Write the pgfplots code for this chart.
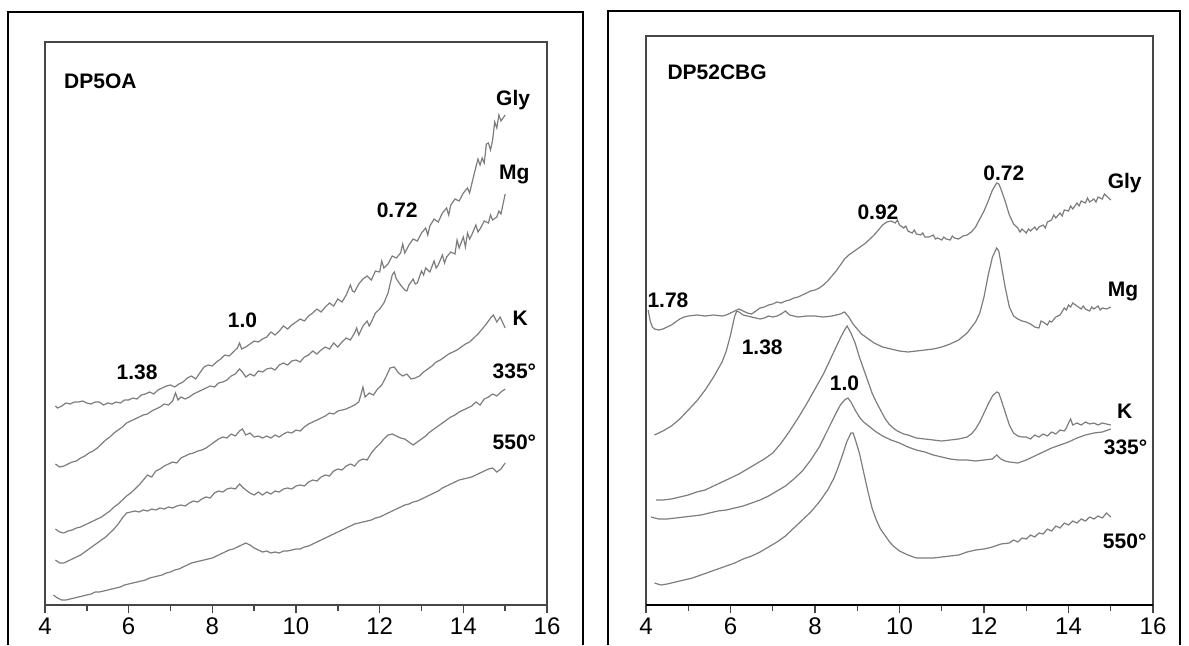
\documentclass[border=0pt]{standalone}
\usepackage{fontspec}
\setmainfont{Liberation Sans}
\usepackage{pgfplots}
\pgfplotsset{compat=1.18}
\definecolor{trace}{RGB}{125,125,125}
\definecolor{boxc}{RGB}{70,70,70}
\pgfplotsset{
  xrd/.style={
    scale only axis, xmin=4, xmax=16, ymin=0,
    xtick={4,6,...,16}, minor xtick={5,7,...,15},
    ytick=\empty, xtick pos=bottom, xtick align=outside,
    major tick length=4pt, minor tick length=3pt,
    tick style={boxc, line width=0.7pt},
    axis line style={boxc, line width=0.75pt},
    /pgf/number format/assume math mode=true,
    xticklabel style={font=\fontsize{12}{13}\selectfont, yshift=1pt},
    no markers,
    every axis plot post/.append style={trace, line width=0.6pt, mark=none},
  },
}
\tikzset{lab/.style={font=\bfseries\fontsize{10.5}{12}\selectfont, inner sep=0pt}}
\begin{document}
\begin{tikzpicture}[x=0.5pt,y=0.5pt]
\useasboundingbox (0,0) rectangle (1189,645);
% outer frames
\draw[black, line width=1pt] (8,0) -- (8,633) -- (583,633) -- (583,0);
\draw[black, line width=1pt] (608,0) -- (608,634) -- (1180,634) -- (1180,0);

\begin{axis}[xrd, at={(22.5pt,20pt)}, anchor=south west, width=251pt, height=281.5pt, ymax=563]
% Gly
\addplot coordinates {(4.25,199)(4.3,197)(4.4,199)(4.5,202)(4.6,201)(4.7,203)(4.8,203)(4.9,204)(5.0,202)(5.1,201)(5.2,203)(5.3,203)(5.4,200)(5.5,202)(5.6,201)(5.7,203)(5.8,202)(5.9,205)(6.0,205)(6.1,207)(6.2,206)(6.3,210)(6.4,211)(6.5,213)(6.6,211)(6.7,215)(6.8,217)(6.9,219)(7.0,220)(7.1,218)(7.2,221)(7.3,223)(7.4,227)(7.5,229)(7.6,226)(7.7,232)(7.8,238)(7.9,240)(8.0,239)(8.1,243)(8.2,246)(8.3,250)(8.4,249)(8.5,253)(8.6,257)(8.65,262)(8.7,256)(8.8,258)(8.9,261)(9.0,264)(9.1,263)(9.2,266)(9.3,268)(9.4,273)(9.5,270)(9.6,274)(9.7,279)(9.8,276)(9.9,280)(10.0,283)(10.1,286)(10.2,284)(10.3,289)(10.4,292)(10.5,296)(10.6,293)(10.7,298)(10.8,302)(10.9,299)(11.0,306)(11.1,303)(11.2,310)(11.3,320)(11.35,314)(11.4,313)(11.5,321)(11.6,326)(11.7,329)(11.8,325)(11.9,334)(12.0,333)(12.05,344)(12.1,337)(12.2,341)(12.3,349)(12.4,347)(12.5,352)(12.55,361)(12.6,352)(12.7,360)(12.8,366)(12.9,364)(13.0,372)(13.1,377)(13.15,370)(13.2,379)(13.3,386)(13.4,383)(13.5,392)(13.6,397)(13.65,390)(13.7,400)(13.8,406)(13.9,404)(14.0,412)(14.1,417)(14.15,412)(14.2,421)(14.3,438)(14.35,446)(14.4,440)(14.45,447)(14.5,442)(14.55,461)(14.6,462)(14.65,455)(14.7,465)(14.75,483)(14.8,477)(14.85,490)(14.9,484)(15.0,490)};
% Mg
\addplot coordinates {(4.25,141)(4.35,138)(4.45,139)(4.55,141)(4.65,143)(4.75,144)(4.85,147)(4.95,149)(5.05,152)(5.15,154)(5.25,157)(5.35,161)(5.45,165)(5.55,168)(5.65,172)(5.75,175)(5.85,178)(5.95,182)(6.05,184)(6.15,186)(6.25,188)(6.35,190)(6.45,191)(6.55,194)(6.65,196)(6.75,198)(6.85,201)(6.95,200)(7.05,204)(7.12,212)(7.18,205)(7.25,208)(7.35,206)(7.45,208)(7.55,211)(7.65,213)(7.75,215)(7.85,217)(7.95,219)(8.05,218)(8.15,222)(8.25,223)(8.35,225)(8.45,229)(8.55,231)(8.65,236)(8.72,233)(8.8,228)(8.9,231)(9.0,229)(9.1,234)(9.2,233)(9.3,236)(9.4,237)(9.5,235)(9.6,240)(9.7,242)(9.8,240)(9.9,244)(10.0,245)(10.1,243)(10.2,248)(10.3,250)(10.4,254)(10.5,251)(10.6,255)(10.7,258)(10.8,256)(10.9,262)(11.0,258)(11.1,263)(11.2,267)(11.3,265)(11.4,272)(11.45,277)(11.5,270)(11.6,279)(11.7,284)(11.75,279)(11.8,283)(11.9,292)(12.0,296)(12.1,302)(12.2,312)(12.3,330)(12.35,333)(12.4,326)(12.5,320)(12.6,315)(12.65,314)(12.7,320)(12.8,326)(12.85,321)(12.9,322)(13.0,334)(13.05,330)(13.1,337)(13.2,333)(13.3,344)(13.35,337)(13.4,340)(13.5,350)(13.55,342)(13.6,348)(13.7,353)(13.8,351)(13.85,365)(13.9,357)(14.0,368)(14.05,358)(14.1,372)(14.15,366)(14.2,370)(14.3,380)(14.35,373)(14.4,376)(14.5,384)(14.6,382)(14.65,390)(14.7,385)(14.8,388)(14.85,394)(14.9,391)(15.0,411)};
% K
\addplot coordinates {(4.25,76)(4.35,73)(4.45,72)(4.55,74)(4.65,75)(4.75,77)(4.85,78)(4.95,80)(5.05,82)(5.15,84)(5.25,86)(5.35,88)(5.45,91)(5.55,94)(5.65,98)(5.75,101)(5.85,105)(5.95,109)(6.05,112)(6.15,116)(6.25,120)(6.35,125)(6.45,130)(6.55,128)(6.65,134)(6.75,136)(6.85,139)(6.95,141)(7.05,143)(7.15,142)(7.25,147)(7.35,149)(7.45,151)(7.55,152)(7.65,154)(7.75,155)(7.85,157)(7.95,160)(8.05,163)(8.15,166)(8.25,168)(8.35,167)(8.45,171)(8.55,169)(8.65,174)(8.72,176)(8.8,170)(8.9,172)(9.0,168)(9.1,169)(9.2,167)(9.3,169)(9.4,167)(9.5,170)(9.6,168)(9.7,171)(9.8,173)(9.9,172)(10.0,175)(10.1,174)(10.2,178)(10.3,181)(10.4,183)(10.5,185)(10.6,187)(10.7,189)(10.8,192)(10.9,191)(11.0,194)(11.1,195)(11.2,196)(11.3,198)(11.4,200)(11.5,203)(11.55,210)(11.6,218)(11.65,208)(11.75,212)(11.85,210)(11.95,216)(12.05,220)(12.15,228)(12.25,237)(12.35,238)(12.45,232)(12.55,229)(12.65,231)(12.75,226)(12.85,227)(12.95,229)(13.05,233)(13.15,236)(13.25,239)(13.35,243)(13.45,245)(13.55,248)(13.65,251)(13.75,253)(13.85,255)(13.95,258)(14.05,261)(14.15,263)(14.25,267)(14.35,271)(14.45,276)(14.55,281)(14.65,287)(14.72,290)(14.8,283)(14.88,288)(15.0,277)};
% 335
\addplot coordinates {(4.25,45)(4.35,42)(4.45,42)(4.55,44)(4.65,46)(4.75,48)(4.85,50)(4.95,53)(5.05,56)(5.15,59)(5.25,62)(5.35,65)(5.45,68)(5.55,72)(5.65,76)(5.75,81)(5.85,87)(5.95,92)(6.05,93)(6.15,94)(6.25,93)(6.35,95)(6.45,94)(6.55,96)(6.65,95)(6.75,97)(6.85,96)(6.95,98)(7.05,97)(7.15,99)(7.25,100)(7.35,99)(7.45,102)(7.55,104)(7.65,103)(7.75,106)(7.85,108)(7.95,107)(8.05,112)(8.15,114)(8.25,113)(8.35,116)(8.45,117)(8.55,116)(8.65,121)(8.72,118)(8.8,115)(8.9,112)(9.0,110)(9.1,113)(9.2,110)(9.3,113)(9.4,111)(9.5,114)(9.6,113)(9.7,116)(9.8,117)(9.9,116)(10.0,119)(10.1,120)(10.2,119)(10.3,123)(10.4,125)(10.5,124)(10.6,128)(10.7,130)(10.8,129)(10.9,134)(11.0,136)(11.1,135)(11.2,139)(11.3,141)(11.4,139)(11.5,144)(11.6,146)(11.7,145)(11.8,152)(11.9,157)(12.0,161)(12.1,166)(12.2,170)(12.3,171)(12.4,169)(12.5,167)(12.6,166)(12.7,163)(12.8,160)(12.9,163)(13.0,166)(13.1,169)(13.2,173)(13.3,176)(13.4,179)(13.5,182)(13.6,185)(13.7,188)(13.8,190)(13.9,193)(14.0,195)(14.1,197)(14.2,199)(14.3,203)(14.4,200)(14.5,206)(14.6,208)(14.7,211)(14.8,209)(14.9,213)(15.0,216)};
% 550
\addplot coordinates {(4.2,10)(4.3,7)(4.4,5)(4.5,5)(4.6,6)(4.7,7)(4.8,8)(4.9,9)(5.0,10)(5.1,11)(5.2,13)(5.3,13)(5.4,14)(5.5,15)(5.6,16)(5.7,17)(5.8,18)(5.9,20)(6.0,21)(6.1,22)(6.2,23)(6.3,24)(6.4,25)(6.5,27)(6.6,28)(6.7,29)(6.8,30)(6.9,32)(7.0,33)(7.1,35)(7.2,36)(7.3,38)(7.4,40)(7.5,42)(7.6,43)(7.7,44)(7.8,45)(7.9,46)(8.0,47)(8.1,49)(8.2,51)(8.3,53)(8.4,55)(8.5,56)(8.6,58)(8.7,60)(8.8,62)(8.9,60)(9.0,57)(9.1,55)(9.2,53)(9.3,54)(9.4,52)(9.5,53)(9.6,52)(9.7,54)(9.8,54)(9.9,55)(10.0,56)(10.1,56)(10.2,58)(10.3,59)(10.4,61)(10.5,63)(10.6,65)(10.7,67)(10.8,69)(10.9,71)(11.0,73)(11.1,75)(11.2,77)(11.3,79)(11.4,81)(11.5,82)(11.6,83)(11.7,84)(11.8,85)(11.9,87)(12.0,88)(12.1,90)(12.2,92)(12.3,94)(12.4,96)(12.5,98)(12.6,100)(12.7,101)(12.8,103)(12.9,104)(13.0,106)(13.1,108)(13.2,110)(13.3,112)(13.4,114)(13.5,117)(13.6,119)(13.7,121)(13.8,123)(13.9,125)(14.0,126)(14.1,127)(14.2,128)(14.3,130)(14.4,132)(14.5,134)(14.6,136)(14.7,137)(14.8,133)(14.9,136)(15.0,142)};
\node[lab, anchor=west] at (axis cs:4.45,524) {DP5OA};
\node[lab] at (axis cs:15.19,505) {Gly};
\node[lab] at (axis cs:15.22,431) {Mg};
\node[lab] at (axis cs:12.42,395) {0.72};
\node[lab] at (axis cs:8.72,285) {1.0};
\node[lab] at (axis cs:6.2,233) {1.38};
\node[lab] at (axis cs:15.36,287) {K};
\node[lab] at (axis cs:15.22,234) {335°};
\node[lab] at (axis cs:15.22,163) {550°};
\end{axis}

\begin{axis}[xrd, at={(323pt,20pt)}, anchor=south west, width=253.5pt, height=284.5pt, ymax=569]
% Gly
\addplot coordinates {(4.05,295)(4.1,284)(4.15,278)(4.2,276)(4.3,275)(4.4,276)(4.5,278)(4.6,280)(4.7,283)(4.8,286)(4.9,288)(5.0,289)(5.2,290)(5.4,289)(5.6,290)(5.8,289)(5.9,290)(6.0,292)(6.1,294)(6.2,296)(6.3,294)(6.4,292)(6.5,291)(6.6,294)(6.7,297)(6.8,298)(6.9,300)(7.0,301)(7.1,303)(7.2,302)(7.3,304)(7.4,305)(7.5,307)(7.6,308)(7.7,310)(7.8,312)(7.9,314)(8.0,315)(8.1,317)(8.2,320)(8.3,324)(8.4,329)(8.5,334)(8.6,340)(8.7,346)(8.8,350)(8.9,353)(9.0,356)(9.1,359)(9.2,362)(9.3,366)(9.4,370)(9.5,375)(9.6,380)(9.7,383)(9.8,384)(9.9,382)(9.95,385)(10.0,380)(10.1,377)(10.15,379)(10.2,374)(10.3,372)(10.35,375)(10.4,371)(10.5,370)(10.55,372)(10.6,368)(10.7,368)(10.8,370)(10.85,366)(10.9,367)(11.0,365)(11.05,368)(11.1,366)(11.2,365)(11.25,369)(11.3,367)(11.4,366)(11.5,369)(11.6,370)(11.7,373)(11.8,378)(11.9,386)(12.0,394)(12.1,404)(12.2,415)(12.3,422)(12.35,421)(12.4,416)(12.5,404)(12.6,390)(12.7,381)(12.8,377)(12.85,373)(12.9,376)(13.0,372)(13.05,376)(13.1,374)(13.2,378)(13.25,375)(13.3,378)(13.4,380)(13.45,377)(13.5,383)(13.6,385)(13.65,390)(13.7,387)(13.8,392)(13.85,389)(13.9,395)(14.0,394)(14.05,399)(14.1,396)(14.2,402)(14.25,399)(14.3,404)(14.4,402)(14.45,407)(14.5,403)(14.6,406)(14.65,403)(14.7,408)(14.8,406)(14.85,411)(14.9,409)(15.0,405)};
% Mg
\addplot coordinates {(4.2,170)(4.4,174)(4.6,179)(4.8,186)(5.0,195)(5.2,204)(5.4,215)(5.6,228)(5.8,243)(5.9,254)(6.0,270)(6.1,289)(6.15,294)(6.2,293)(6.3,290)(6.4,289)(6.5,288)(6.6,287)(6.7,286)(6.8,287)(6.9,289)(7.0,288)(7.1,289)(7.2,291)(7.3,294)(7.4,290)(7.5,289)(7.6,288)(7.8,289)(8.0,289)(8.2,288)(8.4,289)(8.6,291)(8.7,293)(8.8,288)(8.9,281)(9.0,276)(9.1,271)(9.2,268)(9.3,265)(9.4,262)(9.5,260)(9.6,258)(9.7,257)(9.8,256)(9.9,255)(10.0,254)(10.2,253)(10.4,254)(10.6,255)(10.8,256)(11.0,258)(11.2,261)(11.4,265)(11.6,272)(11.8,283)(11.9,292)(12.0,308)(12.1,330)(12.2,348)(12.3,357)(12.35,354)(12.4,342)(12.5,318)(12.6,298)(12.7,289)(12.8,286)(12.9,284)(13.0,283)(13.1,281)(13.2,278)(13.3,277)(13.35,284)(13.4,283)(13.5,280)(13.55,284)(13.6,283)(13.7,288)(13.8,290)(13.9,297)(13.95,295)(14.0,300)(14.05,298)(14.1,302)(14.2,299)(14.3,296)(14.35,299)(14.4,296)(14.5,294)(14.55,298)(14.6,296)(14.7,299)(14.75,295)(14.8,297)(14.9,296)(15.0,298)};
% K
\addplot coordinates {(4.24,105)(4.4,105)(4.6,106)(4.8,108)(5.0,110)(5.2,113)(5.4,115)(5.6,119)(5.8,123)(6.0,127)(6.2,131)(6.4,136)(6.6,141)(6.8,146)(7.0,152)(7.2,162)(7.4,174)(7.6,187)(7.8,201)(8.0,216)(8.2,231)(8.4,249)(8.5,258)(8.6,267)(8.7,275)(8.76,279)(8.85,272)(8.95,262)(9.05,248)(9.15,236)(9.25,224)(9.35,212)(9.45,203)(9.55,195)(9.65,187)(9.75,181)(9.85,177)(9.95,174)(10.1,171)(10.2,170)(10.4,167)(10.6,166)(10.8,165)(11.0,164)(11.2,165)(11.4,166)(11.6,168)(11.7,171)(11.8,176)(11.9,183)(12.0,192)(12.1,201)(12.2,209)(12.3,213)(12.35,212)(12.4,206)(12.5,193)(12.6,180)(12.7,172)(12.8,169)(12.9,168)(13.0,168)(13.1,166)(13.2,170)(13.3,168)(13.4,171)(13.5,169)(13.6,173)(13.7,171)(13.8,175)(13.9,174)(13.95,177)(14.0,182)(14.05,186)(14.1,180)(14.2,182)(14.3,180)(14.4,183)(14.5,181)(14.6,182)(14.7,180)(14.8,182)(14.9,181)(15.0,180)};
% 335
\addplot coordinates {(4.12,88)(4.3,86)(4.5,86)(4.7,87)(4.9,88)(5.1,89)(5.3,90)(5.5,92)(5.7,94)(5.9,95)(6.1,97)(6.3,99)(6.5,102)(6.7,105)(6.9,109)(7.1,114)(7.3,119)(7.5,126)(7.7,134)(7.9,145)(8.1,158)(8.3,175)(8.5,192)(8.6,200)(8.7,205)(8.78,207)(8.85,203)(8.95,195)(9.05,188)(9.15,183)(9.3,178)(9.45,173)(9.6,169)(9.8,165)(10.0,162)(10.2,158)(10.4,155)(10.6,153)(10.8,150)(11.0,148)(11.2,146)(11.4,145)(11.6,145)(11.8,144)(12.0,145)(12.2,146)(12.3,150)(12.4,146)(12.5,144)(12.6,143)(12.8,142)(13.0,145)(13.2,149)(13.4,153)(13.6,157)(13.8,160)(14.0,163)(14.2,167)(14.4,170)(14.6,172)(14.8,173)(15.0,176)};
% 550
\addplot coordinates {(4.2,22)(4.35,20)(4.5,21)(4.7,23)(4.9,25)(5.1,27)(5.3,30)(5.5,33)(5.7,36)(5.9,39)(6.1,42)(6.3,46)(6.5,49)(6.7,53)(6.9,58)(7.1,63)(7.3,69)(7.5,77)(7.7,85)(7.9,93)(8.1,103)(8.3,115)(8.45,127)(8.55,138)(8.65,150)(8.75,163)(8.85,172)(8.9,172)(8.95,166)(9.05,152)(9.15,133)(9.25,114)(9.35,97)(9.45,85)(9.55,76)(9.65,70)(9.75,64)(9.85,59)(10.0,54)(10.2,50)(10.4,47)(10.6,47)(10.8,47)(11.0,48)(11.2,49)(11.4,50)(11.6,53)(11.8,55)(12.0,56)(12.2,58)(12.4,61)(12.6,62)(12.7,65)(12.8,63)(12.9,67)(13.0,66)(13.1,70)(13.2,68)(13.3,72)(13.4,71)(13.5,76)(13.6,74)(13.7,79)(13.8,77)(13.9,82)(14.0,80)(14.1,84)(14.2,82)(14.3,86)(14.4,84)(14.5,88)(14.6,86)(14.7,89)(14.8,87)(14.9,92)(15.0,88)};
\draw[black, line width=1.5pt] (rel axis cs:0,0) -- (rel axis cs:1,0);
\node[lab, anchor=west] at (axis cs:4.5,533) {DP52CBG};
\node[lab] at (axis cs:9.49,393) {0.92};
\node[lab] at (axis cs:12.47,432) {0.72};
\node[lab] at (axis cs:15.33,422) {Gly};
\node[lab] at (axis cs:4.52,305) {1.78};
\node[lab] at (axis cs:15.29,314) {Mg};
\node[lab] at (axis cs:6.75,258) {1.38};
\node[lab] at (axis cs:8.70,222) {1.0};
\node[lab] at (axis cs:15.33,194) {K};
\node[lab] at (axis cs:15.35,158) {335°};
\node[lab] at (axis cs:15.33,64) {550°};
\end{axis}
\end{tikzpicture}
\end{document}
